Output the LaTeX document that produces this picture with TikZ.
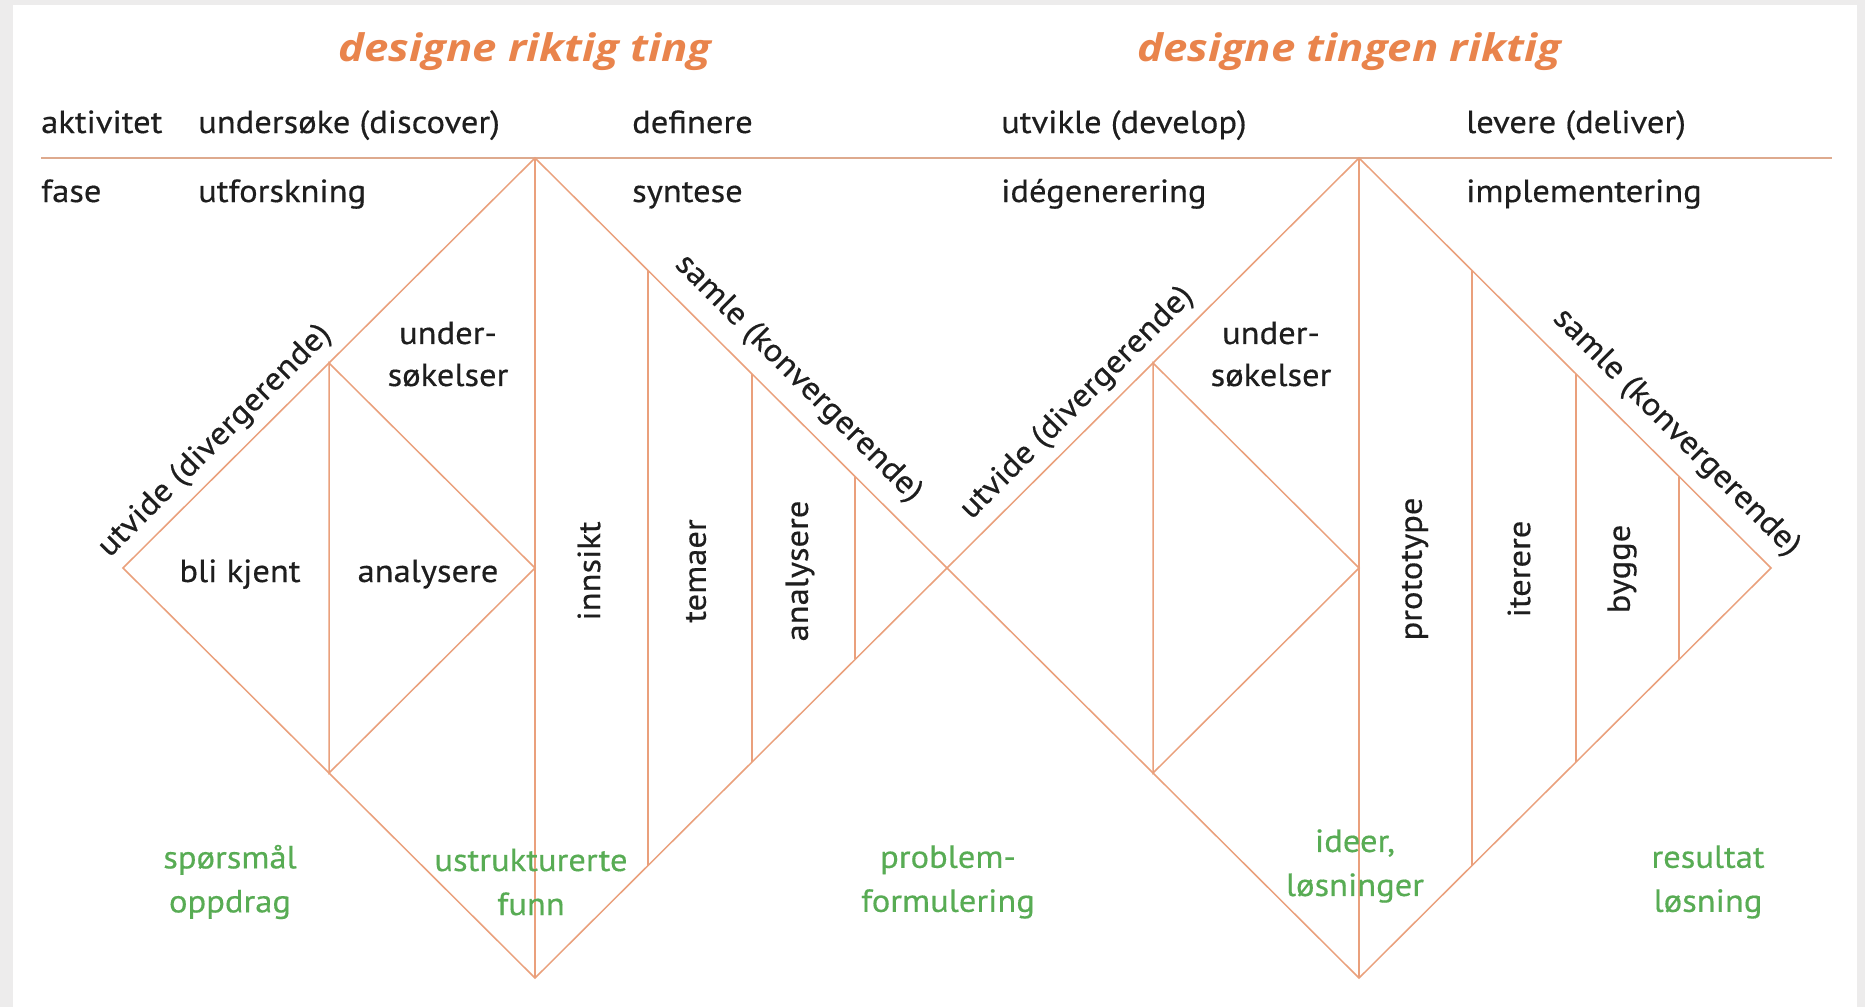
\documentclass[tikz,border=0pt]{standalone}
\usepackage{fontspec}
\setmainfont{PT Sans}[FakeStretch=1.08,FakeBold=0.4]
\newfontfamily\headfont{Open Sans}
\usetikzlibrary{calc}
\definecolor{frame}{RGB}{237,236,236}
\definecolor{edge}{RGB}{234,160,124}
\definecolor{rulec}{RGB}{222,170,142}
\definecolor{headline}{RGB}{233,132,76}
\definecolor{outcome}{RGB}{88,172,84}
\definecolor{ink}{RGB}{30,30,30}
\begin{document}
\begin{tikzpicture}[x=1pt,y=-1pt,
  lbl/.style={inner sep=0pt, text=ink, font=\fontsize{32}{42}\selectfont},
  lblrow/.style={lbl, anchor=base west},
  headtxt/.style={inner sep=0pt, text=headline, xscale=1.15, font=\headfont\fontsize{38}{44}\selectfont\bfseries\itshape},
  restxt/.style={inner sep=0pt, text=outcome, align=center, font=\fontsize{32}{44}\selectfont},
  edgeline/.style={draw=edge, line width=1.5pt},
  divtxt/.style={lbl, anchor=south, inner sep=10pt, rotate=45},
  kontxt/.style={lbl, anchor=south, inner sep=15pt, rotate=-45},
  verttxt/.style={lbl, rotate=90},
]
\useasboundingbox (0,0) rectangle (1865,1007);
\fill[frame] (0,0) rectangle (1865,1007);
\fill[white] (13,5) rectangle (1857,1007);

% key points of the two diamonds
\coordinate (A1) at (535,158);
\coordinate (B1) at (535,978);
\coordinate (L1) at (123,568);
\coordinate (M)  at (947,568);
\coordinate (A2) at (1359,158);
\coordinate (B2) at (1359,978);
\coordinate (R2) at (1771,568);
\coordinate (C1) at (A1 |- M);
\coordinate (C2) at (A2 |- M);
\coordinate (ruleW) at (41,158);
\coordinate (ruleE) at (1832,158);

% header rule
\draw[rulec, line width=2.4pt] (ruleW) -- (ruleE);

% outer diamonds and their centre lines
\draw[edgeline] (L1) -- (A1) -- (M) -- (B1) -- cycle;
\draw[edgeline] (M) -- (A2) -- (R2) -- (B2) -- cycle;
\draw[edgeline] (A1) -- (B1);
\draw[edgeline] (A2) -- (B2);

% inner diamonds on the diverging side
\coordinate (T1) at ($(L1)!0.5!(A1)$);
\coordinate (U1) at ($(L1)!0.5!(B1)$);
\coordinate (T2) at ($(M)!0.5!(A2)$);
\coordinate (U2) at ($(M)!0.5!(B2)$);
\draw[edgeline] (T1) -- (C1) -- (U1) -- cycle;
\draw[edgeline] (T2) -- (C2) -- (U2) -- cycle;

% vertical strips on the converging side
\foreach \t in {0.274,0.527,0.777}{
  \draw[edgeline] ($(A1)!\t!(M)$) -- ($(B1)!\t!(M)$);
  \draw[edgeline] ($(A2)!\t!(R2)$) -- ($(B2)!\t!(R2)$);
}

% headings
\node[headtxt] (h1) at (525,52) {designe riktig ting};
\node[headtxt] (h2) at (1349,52) {designe tingen riktig};

% activity row
\node[lblrow] (akt) at (41,133) {aktivitet};
\node[lblrow] (a1) at (198,133) {undersøke (discover)};
\node[lblrow] (a2) at (632,133) {definere};
\node[lblrow] (a3) at (1001,133) {utvikle (develop)};
\node[lblrow] (a4) at (1466,133) {levere (deliver)};

% phase row
\node[lblrow] (fas) at (41,202) {fase};
\node[lblrow] (f1) at (198,202) {utforskning};
\node[lblrow] (f2) at (632,202) {syntese};
\node[lblrow] (f3) at (1001,202) {idégenerering};
\node[lblrow] (f4) at (1466,202) {implementering};

% first diamond labels
\node[lbl, align=center] (us1) at (448,354) {under-\\søkelser};
\node[lbl, anchor=base] (bk) at (240,582) {bli kjent};
\node[lbl, anchor=base] (an1) at (428,582) {analysere};
\node[verttxt] (ins) at (589,571) {innsikt};
\node[verttxt] (tem) at (696,571) {temaer};
\node[verttxt] (an2) at (800,571) {analysere};
\node[divtxt] (div1) at (233,459) {utvide (divergerende)};
\node[kontxt] (kon1) at (777,400) {samle (konvergerende)};

% second diamond labels
\node[lbl, align=center] (us2) at (1271,354) {under-\\søkelser};
\node[verttxt] (pro) at (1415,569) {prototype};
\node[verttxt] (ite) at (1519,569) {iterere};
\node[verttxt] (byg) at (1622,569) {bygge};
\node[divtxt] (div2) at (1095,421) {utvide (divergerende)};
\node[kontxt] (kon2) at (1655,454) {samle (konvergerende)};

% outcomes
\node[restxt] (o1) at (230,882) {spørsmål\\oppdrag};
\node[restxt] (o2) at (531,882) {ustrukturerte\\funn};
\node[restxt] (o3) at (948,882) {problem-\\formulering};
\node[restxt] (o4) at (1355,866) {ideer,\\løsninger};
\node[restxt] (o5) at (1708,882) {resultat\\løsning};
\end{tikzpicture}
\end{document}
